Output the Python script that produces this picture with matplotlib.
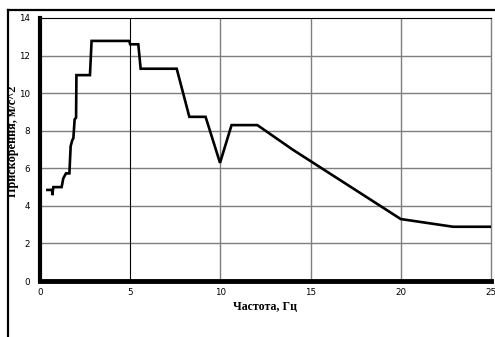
import matplotlib
matplotlib.use("Agg")
import matplotlib.pyplot as plt
from matplotlib.lines import Line2D

# frequency (Hz) and acceleration (m/s^2)
freq = [0.41, 0.68, 0.68, 0.74, 1.20, 1.29, 1.44, 1.63, 1.70, 1.79, 1.85, 1.92, 2.00, 2.02,
        2.77, 2.86, 4.95, 5.00, 5.45, 5.58, 7.58, 8.28, 9.18, 9.98, 10.62, 12.05, 14.0,
        20.0, 22.9, 25.0]
accel = [4.85, 4.85, 4.57, 5.00, 5.00, 5.46, 5.73, 5.73, 7.18, 7.50, 7.60, 8.60, 8.70, 10.96,
         10.96, 12.78, 12.78, 12.60, 12.60, 11.30, 11.30, 8.74, 8.74, 6.29, 8.30, 8.30, 7.00,
         3.30, 2.89, 2.89]

x_ticks = [0, 5, 10, 15, 20, 25]
y_ticks = [0, 2, 4, 6, 8, 10, 12, 14]

fig = plt.figure(figsize=(4.95, 3.37), dpi=100)
ax = fig.add_axes([0.0808, 0.166, 0.911, 0.7806])

# grid: gray lines, the one at 5 Hz is black
for y in y_ticks[1:-1]:
    ax.axhline(y, color="#7f7f7f", linewidth=1.0, zorder=1)
for x in x_ticks[1:-1]:
    ax.axvline(x, color="black" if x == 5 else "#7f7f7f",
               linewidth=0.8 if x == 5 else 1.0, zorder=1)

ax.plot(freq, accel, color="black", linewidth=1.9, solid_joinstyle="miter", zorder=3)

ax.set_xlim(0, 25)
ax.set_ylim(0, 14)
ax.set_xticks(x_ticks)
ax.set_yticks(y_ticks)
ax.tick_params(length=0, labelsize=6.3)
ax.tick_params(axis="y", pad=7)
ax.tick_params(axis="x", pad=5)
for lab in ax.get_xticklabels() + ax.get_yticklabels():
    lab.set_family("DejaVu Sans")

ax.spines["left"].set_linewidth(3.0)
ax.spines["bottom"].set_linewidth(3.5)
ax.spines["top"].set_linewidth(0.8)
ax.spines["right"].set_linewidth(1.0)
ax.spines["right"].set_color("#7f7f7f")

ax.set_xlabel("Частота, Гц", family="Liberation Serif", fontweight="bold",
              fontsize=8.6, labelpad=3)
ax.set_ylabel("Прискорення, м/с^2", family="Liberation Serif", fontweight="bold",
              fontsize=8.8)
ax.yaxis.set_label_coords(-0.046, 0.53)

# outer frame (left and top edges)
top = 1 - 10 / 337
left = 8 / 495
fig.add_artist(Line2D([left, left], [0, top], color="black", linewidth=1.6))
fig.add_artist(Line2D([left, 1], [top, top], color="black", linewidth=1.6))

fig.savefig("out.png", dpi=100)
